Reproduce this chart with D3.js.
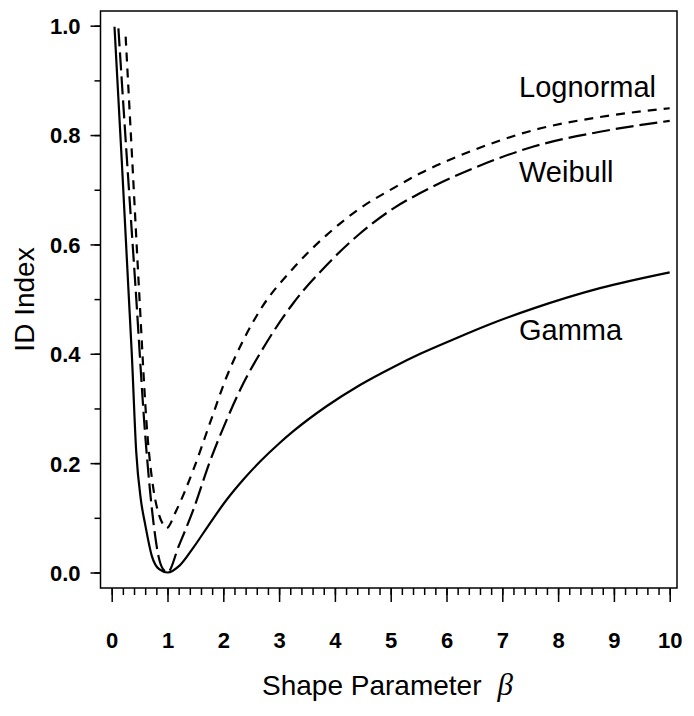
<!DOCTYPE html>
<html>
<head>
<meta charset="utf-8">
<script src="https://cdn.jsdelivr.net/npm/d3@7"></script>
<style>
  body { margin: 0; background: #fff; }
  svg { display: block; }
  .tick text { font-family: 'Liberation Sans', Arial, sans-serif; font-weight: bold; font-size: 22px; fill: #000; }
  .tick line { stroke: #000; stroke-width: 1.5; }
  .lbl { font-family: 'Liberation Sans', Arial, sans-serif; font-size: 28px; fill: #000; }
  .name { font-size: 29px; }
</style>
</head>
<body>
<div id="chart"></div>
<script>
// ID index vs shape parameter
var betaGamma = [0.05, 0.18, 0.30, 0.36, 0.44, 0.52, 0.60, 0.72, 0.85, 1.0, 1.22, 1.46, 1.76, 2.06, 2.36, 2.66, 3.0, 3.25, 3.85, 4.45, 5.05, 5.53, 6.07, 6.8, 7.56, 8.75, 10]
var idGamma = [0.998, 0.754, 0.517, 0.40, 0.22, 0.135, 0.088, 0.03, 0.006, 0.0, 0.013, 0.045, 0.09, 0.133, 0.17, 0.203, 0.236, 0.258, 0.304, 0.343, 0.376, 0.40, 0.424, 0.455, 0.483, 0.52, 0.549]

var betaWeibull = [0.12, 0.27, 0.43, 0.60, 0.75, 0.84, 0.92, 1.0, 1.2, 1.46, 1.76, 2.06, 2.36, 2.66, 3.25, 3.85, 4.45, 5.05, 5.53, 6.5, 7.56, 8.75, 10]
var idWeibull = [0.995, 0.76, 0.517, 0.252, 0.09, 0.029, 0.006, 0.0, 0.048, 0.114, 0.203, 0.279, 0.346, 0.401, 0.492, 0.562, 0.62, 0.666, 0.694, 0.74, 0.779, 0.806, 0.826]

var betaLognormal = [0.25, 0.37, 0.49, 0.64, 0.75, 0.85, 0.92, 0.98, 1.16, 1.46, 1.76, 2.06, 2.36, 2.66, 3.25, 3.85, 4.45, 5.05, 5.53, 6.5, 7.56, 8.75, 10]
var idLognormal = [0.98, 0.75, 0.517, 0.252, 0.151, 0.105, 0.088, 0.081, 0.114, 0.187, 0.273, 0.358, 0.425, 0.48, 0.556, 0.617, 0.666, 0.703, 0.73, 0.773, 0.809, 0.833, 0.849]

var xMajor = [0, 1, 2, 3, 4, 5, 6, 7, 8, 9, 10]
var yMajor = [0, 0.2, 0.4, 0.6, 0.8, 1.0]
var yLabels = ['0.0', '0.2', '0.4', '0.6', '0.8', '1.0']

var seriesNames = ['Lognormal', 'Weibull', 'Gamma']

var width = 694, height = 716

var svg = d3.select('#chart').append('svg')
    .attr('width', width)
    .attr('height', height)

// scales
var x = d3.scaleLinear().domain([0, 10]).range([111.7, 669.7])
var y = d3.scaleLinear().domain([0, 1]).range([572.5, 25.7])

var frame = { left: 100.5, right: 677, top: 11, bottom: 588 }

// x axis: minor every 0.2, major every 1
svg.append('g')
    .attr('transform', 'translate(0,' + frame.bottom + ')')
    .call(d3.axisBottom(x).tickValues(d3.range(0, 50.5, 1).map(function(d) { return d / 5 })).tickSize(7).tickFormat(''))
    .call(function(g) { g.select('.domain').remove() })

svg.append('g')
    .attr('transform', 'translate(0,' + frame.bottom + ')')
    .call(d3.axisBottom(x).tickValues(xMajor).tickSize(14).tickPadding(30).tickFormat(d3.format('d')))
    .call(function(g) { g.select('.domain').remove() })

// y axis: minor every 0.1, major every 0.2
svg.append('g')
    .attr('transform', 'translate(' + frame.left + ',0)')
    .call(d3.axisLeft(y).tickValues(d3.range(0, 10.5, 1).map(function(d) { return d / 10 })).tickSize(6).tickFormat(''))
    .call(function(g) { g.select('.domain').remove() })

svg.append('g')
    .attr('transform', 'translate(' + frame.left + ',0)')
    .call(d3.axisLeft(y).tickValues(yMajor).tickSize(10).tickPadding(10)
        .tickFormat(function(d, i) { return yLabels[i] }))
    .call(function(g) { g.select('.domain').remove() })
    .selectAll('text').attr('dy', '0.36em')

// box round the plot
svg.append('rect')
    .attr('x', frame.left)
    .attr('y', frame.top)
    .attr('width', frame.right - frame.left)
    .attr('height', frame.bottom - frame.top)
    .attr('fill', 'none')
    .attr('stroke', '#000')
    .attr('stroke-width', 1.5)

// curves
var line = d3.line()
    .x(function(d) { return x(d[0]) })
    .y(function(d) { return y(d[1]) })
    .curve(d3.curveMonotoneX)

var series = [
    { name: 'Gamma', beta: betaGamma, id: idGamma, dash: null },
    { name: 'Weibull', beta: betaWeibull, id: idWeibull, dash: '18,6' },
    { name: 'Lognormal', beta: betaLognormal, id: idLognormal, dash: '9,7' }
]

svg.selectAll('path.curve')
    .data(series)
    .enter().append('path')
    .attr('class', 'curve')
    .attr('d', function(s) { return line(d3.zip(s.beta, s.id)) })
    .attr('fill', 'none')
    .attr('stroke', '#000')
    .attr('stroke-width', 2.2)
    .attr('stroke-dasharray', function(s) { return s.dash })

// curve labels
var labelPos = { Lognormal: [519, 97], Weibull: [519, 182], Gamma: [519, 340] }

svg.selectAll('text.name')
    .data(seriesNames)
    .enter().append('text')
    .attr('class', 'lbl name')
    .attr('x', function(d) { return labelPos[d][0] })
    .attr('y', function(d) { return labelPos[d][1] })
    .text(function(d) { return d })

// axis titles
var xTitle = svg.append('text')
    .attr('class', 'lbl')
    .attr('x', 262)
    .attr('y', 695)
xTitle.append('tspan').text('Shape Parameter')
xTitle.append('tspan')
    .attr('dx', 16)
    .style('font-family', "'Liberation Serif', 'Times New Roman', serif")
    .style('font-style', 'italic')
    .style('font-size', '31px')
    .text('β')

svg.append('text')
    .attr('class', 'lbl')
    .attr('transform', 'translate(34,' + (frame.top + frame.bottom) / 2 + ') rotate(-90)')
    .attr('text-anchor', 'middle')
    .text('ID Index')
</script>
</body>
</html>
